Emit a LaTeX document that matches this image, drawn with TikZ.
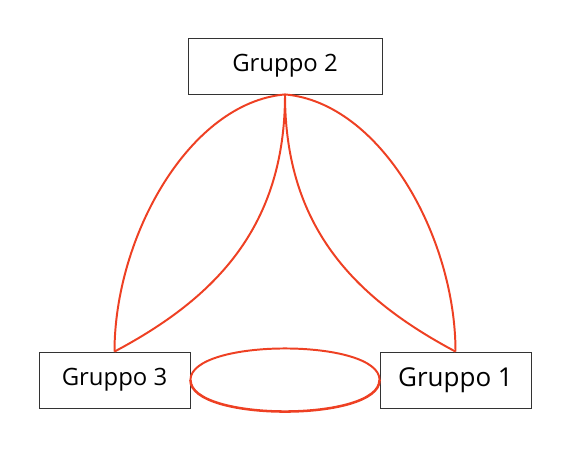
\documentclass[tikz,border=0pt]{standalone}
\usepackage{fontspec}
\setmainfont{Open Sans}
\usetikzlibrary{positioning}
\definecolor{linkred}{RGB}{238,64,35}

\begin{document}
\begin{tikzpicture}[
    group/.style={draw=black!80,line width=0.6pt,minimum height=1.4cm,inner sep=0pt,font=\fontsize{17}{20}\selectfont},
    link/.style={draw=linkred,line width=1.4pt}]
    \useasboundingbox (0,0) rectangle (14.325,11.25);
    \node[group,minimum width=4.85cm] (g2) at (7.125,9.6) {Gruppo 2};
    \node[group,minimum width=3.775cm] (g3) at (2.8625,1.75) {Gruppo 3};
    \node[group,minimum width=3.775cm,font=\fontsize{18.5}{22}\selectfont] (g1) at (11.3875,1.75) {Gruppo 1};
    % lenses between the groups
    \path[link]
    (g2.south) edge [out=185,in=90,out looseness=0.8,in looseness=0.95] (g3.north)
    (g2.south) edge [out=-90,in=28,out looseness=1.1,in looseness=0.95] (g3.north)
    (g2.south) edge [out=-5,in=90,out looseness=0.8,in looseness=0.95] (g1.north)
    (g2.south) edge [out=-90,in=152,out looseness=1.1,in looseness=0.95] (g1.north);
    \draw[link] (g3.east) to[out=90,in=90,looseness=0.57] (g1.west);
    \draw[link,line width=1.8pt] (g3.east) to[out=-90,in=-90,looseness=0.57] (g1.west);
\end{tikzpicture}
\end{document}
